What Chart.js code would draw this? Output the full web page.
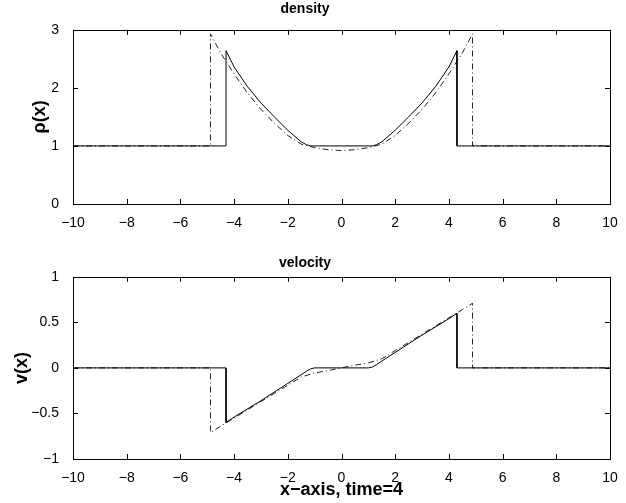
<!DOCTYPE html>
<html><head><meta charset="utf-8">
<script src="https://cdn.jsdelivr.net/npm/chart.js@4/dist/chart.umd.min.js"></script>
<style>
html,body{margin:0;padding:0;background:#fff;}
#wrap{position:relative;width:626px;height:503px;background:#fff;}
canvas{position:absolute;left:0;}
</style></head><body>
<div id="wrap">
<canvas id="topc" width="626" height="235" style="top:0"></canvas>
<canvas id="botc" width="626" height="268" style="top:235px"></canvas>
</div>
<script>
// ---- data ----
const xTickValues = [-10,-8,-6,-4,-2,0,2,4,6,8,10];
const densityTicks = [0,1,2,3];
const velocityTicks = [-1,-0.5,0,0.5,1];

// density, numerical (solid)
const densNumX = [-10,-4.3,-4.3,-4.0,-3.5,-3.0,-2.5,-2.0,-1.5,-1.3,-1.15,1.15,1.3,1.5,2.0,2.5,3.0,3.5,4.0,4.3,4.3,10];
const densNumY = [1,1,2.64,2.36,2.02,1.74,1.5,1.27,1.07,1.02,1.0,1.0,1.02,1.07,1.27,1.5,1.74,2.02,2.36,2.64,1,1];
// density, reference (dash-dot)
const densRefX = [-10,-4.88,-4.88,-4.5,-4.0,-3.5,-3.0,-2.5,-2.0,-1.5,-1.0,-0.5,0,0.5,1.0,1.5,2.0,2.5,3.0,3.5,4.0,4.5,4.88,4.88,10];
const densRefY = [1,1,2.93,2.6,2.24,1.91,1.63,1.39,1.18,1.03,0.97,0.935,0.92,0.935,0.97,1.03,1.18,1.39,1.63,1.91,2.24,2.6,2.93,1,1];

// velocity, numerical (solid)
const velNumX = [-10,-4.3,-4.3,-4.0,-3.0,-2.0,-1.5,-1.3,-1.15,-1.0,1.0,1.15,1.3,1.5,2.0,3.0,4.0,4.3,4.3,10];
const velNumY = [0,0,-0.6,-0.54,-0.36,-0.17,-0.075,-0.035,-0.01,0,0,0.01,0.035,0.075,0.17,0.36,0.54,0.6,0,0];
// velocity, reference (dash-dot)
const velRefX = [-10,-4.88,-4.88,-4.5,-4.0,-3.5,-3.0,-2.5,-2.0,-1.5,-1.0,-0.5,0,0.5,1.0,1.5,2.0,2.5,3.0,3.5,4.0,4.5,4.88,4.88,10];
const velRefY = [0,0,-0.71,-0.64,-0.55,-0.46,-0.37,-0.28,-0.19,-0.1,-0.055,-0.03,0,0.03,0.055,0.1,0.19,0.28,0.37,0.46,0.55,0.64,0.71,0,0];

// ---- helpers ----
const FONT = 'Liberation Sans, Arial, Helvetica, sans-serif';
const pts = (xs, ys) => xs.map((x, i) => ({x: x, y: ys[i]}));
const fmt = v => { const s = String(v); return s.replace('-', '\u2212'); };

const boxTicks = {
  id: 'boxTicks',
  afterDraw(chart) {
    const {ctx, chartArea: a, scales: {x, y}} = chart;
    const L = 5;
    ctx.save();
    ctx.strokeStyle = '#000';
    ctx.lineWidth = 1;
    ctx.beginPath();
    x.ticks.forEach(t => {
      const px = Math.round(x.getPixelForValue(t.value)) + 0.5;
      ctx.moveTo(px, a.bottom); ctx.lineTo(px, a.bottom - L);
      ctx.moveTo(px, a.top); ctx.lineTo(px, a.top + L);
    });
    y.ticks.forEach(t => {
      const py = Math.round(y.getPixelForValue(t.value)) + 0.5;
      ctx.moveTo(a.left, py); ctx.lineTo(a.left + L, py);
      ctx.moveTo(a.right, py); ctx.lineTo(a.right - L, py);
    });
    ctx.stroke();
    ctx.strokeRect(Math.round(a.left) + 0.5, Math.round(a.top) + 0.5,
                   Math.round(a.right - a.left), Math.round(a.bottom - a.top));
    ctx.restore();
  }
};

function makeChart(id, cfg) {
  const lineBase = {borderColor: '#000', borderWidth: 1, pointRadius: 0, fill: false, tension: 0, showLine: true};
  return new Chart(document.getElementById(id), {
    type: 'scatter',
    data: {
      datasets: [
        Object.assign({}, lineBase, {data: cfg.num, label: 'numerical'}),
        Object.assign({}, lineBase, {data: cfg.ref, label: 'reference', borderDash: [6, 3, 1, 3], borderColor: '#222'})
      ]
    },
    options: {
      responsive: false,
      devicePixelRatio: 1,
      animation: false,
      events: [],
      layout: {padding: {left: 0, right: 16, top: 0, bottom: 0}},
      plugins: {
        legend: {display: false},
        tooltip: {enabled: false},
        title: {
          display: true, text: cfg.title, color: '#000',
          font: {family: FONT, size: 14, weight: 'bold'},
          padding: cfg.titlePad
        }
      },
      scales: {
        x: {
          type: 'linear', min: -10, max: 10,
          grid: {display: false}, border: {display: false},
          afterBuildTicks: s => { s.ticks = xTickValues.map(v => ({value: v})); },
          afterFit: s => { s.height = cfg.xHeight; },
          ticks: {color: '#000', font: {family: FONT, size: 14}, padding: 3, maxRotation: 0, autoSkip: false, callback: v => fmt(v)},
          title: cfg.xTitle ? {display: true, text: cfg.xTitle, color: '#000', font: {family: FONT, size: 18, weight: 'bold'}, padding: {top: 0, bottom: 2}} : {display: false}
        },
        y: {
          type: 'linear', min: cfg.ymin, max: cfg.ymax,
          grid: {display: false}, border: {display: false},
          afterBuildTicks: s => { s.ticks = cfg.yTicks.map(v => ({value: v})); },
          afterFit: s => { s.width = 73; },
          ticks: {color: '#000', font: {family: FONT, size: 14}, padding: 6, autoSkip: false, callback: v => fmt(v)},
          title: {display: true, text: cfg.yTitle, color: '#000', font: {family: FONT, size: 18, weight: 'bold'}, padding: {top: cfg.yTitlePad, bottom: 0}}
        }
      }
    },
    plugins: [boxTicks]
  });
}

makeChart('topc', {
  num: pts(densNumX, densNumY), ref: pts(densRefX, densRefY),
  title: 'density', titlePad: {top: 1, bottom: 12},
  ymin: 0, ymax: 3, yTicks: densityTicks, yTitle: '\u03C1(x)', yTitlePad: 29,
  xHeight: 31
});
makeChart('botc', {
  num: pts(velNumX, velNumY), ref: pts(velRefX, velRefY),
  title: 'velocity', titlePad: {top: 20, bottom: 5},
  ymin: -1, ymax: 1, yTicks: velocityTicks, yTitle: 'v(x)', yTitlePad: 11,
  xHeight: 44, xTitle: 'x\u2212axis, time=4'
});
</script>
</body></html>
